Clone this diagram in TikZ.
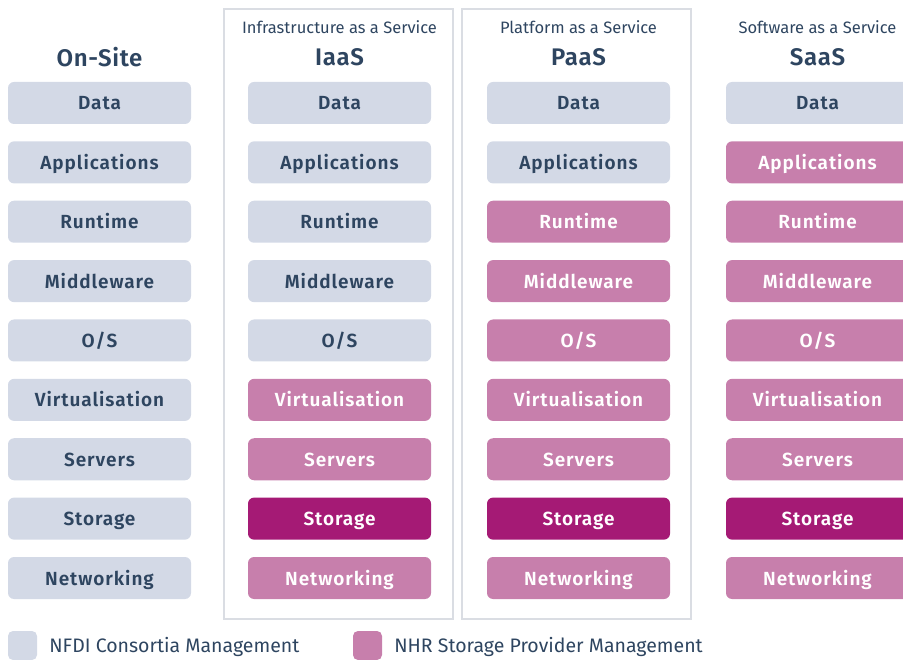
\documentclass[tikz,border=0pt]{standalone}
\usepackage{fontspec}
\setmainfont{Fira Sans}[BoldFont={Fira Sans SemiBold}]
\usetikzlibrary{positioning}

\definecolor{nfdi}{HTML}{D3D9E6}
\definecolor{nhr}{HTML}{C77FAC}
\definecolor{nhrdark}{HTML}{A51A75}
\definecolor{ink}{HTML}{2E4560}
\definecolor{framegrey}{HTML}{DADDE3}

\tikzset{
  layer/.style={rounded corners=6pt,minimum width=183pt,minimum height=42pt,
    inner sep=0pt,text height=14pt,text depth=0pt,
    font=\fontsize{19}{20}\selectfont\bfseries\addfontfeature{LetterSpace=5}},
  own/.style={layer,fill=nfdi,text=ink},
  managed/.style={layer,fill=nhr,text=white},
  store/.style={layer,fill=nhrdark,text=white},
  heading/.style={font=\fontsize{24}{26}\selectfont\bfseries\addfontfeature{LetterSpace=3},text=ink},
  subhead/.style={font=\fontsize{16.5}{18}\selectfont,text=ink},
  keybox/.style={rounded corners=5pt,minimum size=29pt,inner sep=0pt},
  keytext/.style={inner sep=0pt,text height=13.5pt,text depth=0pt,
    font=\fontsize{19.5}{20}\selectfont,text=ink},
  frame/.style={draw=framegrey,line width=2pt}
}

\begin{document}
\begin{tikzpicture}[x=1pt,y=-1pt]
\useasboundingbox (0,0) rectangle (903,660);
\clip (0,0) rectangle (903,660);

% frames round IaaS and PaaS
\draw[frame] (224,9) rectangle (453,619);
\draw[frame] (462,9) rectangle (691,619);

% column titles
\node[heading] (onsite) at (99.5,57) {On-Site};
\node[subhead] (iaas-sub) at (339.5,27) {Infrastructure as a Service};
\node[heading] (iaas) at (339.5,57) {IaaS};
\node[subhead] (paas-sub) at (578.5,27) {Platform as a Service};
\node[heading] (paas) at (578.5,57) {PaaS};
\node[subhead] (saas-sub) at (817.5,27) {Software as a Service};
\node[heading] (saas) at (817.5,57) {SaaS};

% the stack, \n = rows still run by the consortia
\foreach \col/\x/\n in {onsite/99.5/9, iaas/339.5/5, paas/578.5/2, saas/817.5/1}
  \foreach \name [count=\i] in {Data,Applications,Runtime,Middleware,O/S,
      Virtualisation,Servers,Storage,Networking} {
    \ifnum\i>\n \def\kind{managed}\else \def\kind{own}\fi
    \ifnum\i=8 \ifnum\n<8 \def\kind{store}\fi\fi
    \node[\kind] (\col-\i) at (\x,{103+59.375*(\i-1)}) {\name};
  }

% legend
\node[keybox,fill=nfdi] (key-nfdi) at (22.5,645.5) {};
\node[keytext,right=12pt of key-nfdi] (key-nfdi-text) {NFDI Consortia Management};
\node[keybox,fill=nhr] (key-nhr) at (367.5,645.5) {};
\node[keytext,right=12pt of key-nhr] (key-nhr-text) {NHR Storage Provider Management};
\end{tikzpicture}
\end{document}
